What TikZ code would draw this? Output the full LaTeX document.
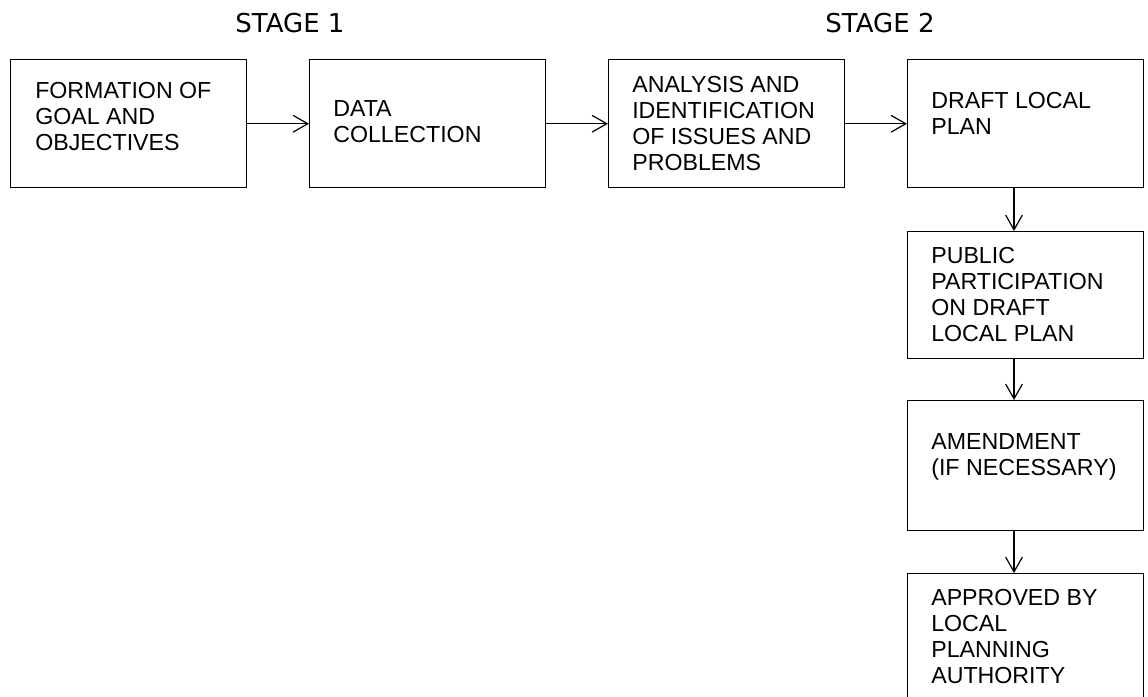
\documentclass[tikz,border=0pt]{standalone}
\usepackage{fontspec}
\setmainfont{Liberation Sans}
\newfontfamily\stagefont{DejaVu Sans}
\usetikzlibrary{arrows.meta}
\begin{document}
\begin{tikzpicture}[x=0.75pt,y=-0.75pt,
  box/.style={draw, line width=1.1pt, inner sep=0pt, anchor=north west, minimum width=177pt},
  txt/.style={font=\fontsize{17.4}{19.5}\selectfont, align=left, inner sep=0pt, anchor=north west},
  stage/.style={font=\stagefont\fontsize{19.5}{22}\selectfont, inner sep=0pt, anchor=base},
  arr/.style={line width=0.9pt, -{Straight Barb[length=11pt,width=12.5pt]}}]
\useasboundingbox (0,0) rectangle (1148,696);
\clip (0,0) rectangle (1148,696);
\fill[white] (0,0) rectangle (1148,696);

% stage labels
\node[stage] (s1) at (290,32) {STAGE 1};
\node[stage] (s2) at (880,32) {STAGE 2};

% boxes
\node[box, minimum height=96pt] (b1) at (10,59) {};
\node[box, minimum height=96pt] (b2) at (309,59) {};
\node[box, minimum height=96pt] (b3) at (608,59) {};
\node[box, minimum height=96pt] (b4) at (907,59) {};
\node[box, minimum height=95.25pt] (b5) at (907,231) {};
\node[box, minimum height=97.5pt] (b6) at (907,400) {};
\node[box, minimum height=112pt] (b7) at (907,573) {};

% texts
\node[txt] (t1) at (35,82) {FORMATION OF\\GOAL AND\\OBJECTIVES};
\node[txt] (t2) at (333,100) {DATA\\COLLECTION};
\node[txt] (t3) at (632,76) {ANALYSIS AND\\IDENTIFICATION\\OF ISSUES AND\\PROBLEMS};
\node[txt] (t4) at (931,92) {DRAFT LOCAL\\PLAN};
\node[txt] (t5) at (931,247) {PUBLIC\\PARTICIPATION\\ON DRAFT\\LOCAL PLAN};
\node[txt] (t6) at (931,433) {AMENDMENT\\(IF NECESSARY)};
\node[txt] (t7) at (931,589) {APPROVED BY\\LOCAL\\PLANNING\\AUTHORITY};

% connectors
\coordinate (ax) at (1014,0);
\draw[arr] (b1.east) -- (b2.west);
\draw[arr] (b2.east) -- (b3.west);
\draw[arr] (b3.east) -- (b4.west);
\draw[arr] (b4.south -| ax) -- (b5.north -| ax);
\draw[arr] (b5.south -| ax) -- (b6.north -| ax);
\draw[arr] (b6.south -| ax) -- (b7.north -| ax);
\end{tikzpicture}
\end{document}
